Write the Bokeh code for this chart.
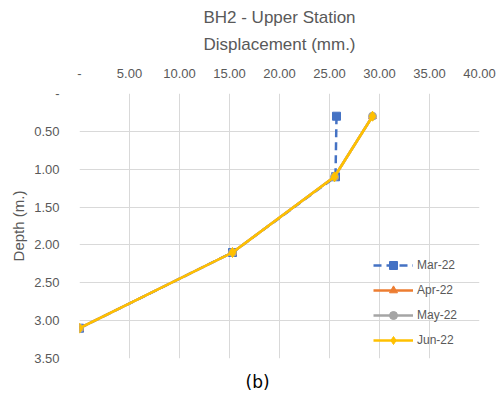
from bokeh.plotting import figure
from bokeh.models import (LinearAxis, FixedTicker, Range1d, Legend, LegendItem, Title, Grid)
from bokeh.embed import file_html
from bokeh.resources import INLINE

# ---- data ----
depth = [0.3, 1.1, 2.1, 3.1]
mar22 = [25.7, 25.6, 15.3, 0.0]
apr22 = [29.3, 25.5, 15.3, 0.0]
may22 = [29.3, 25.5, 15.3, 0.0]
jun22 = [29.3, 25.5, 15.3, 0.0]
x_ticks = [0, 5, 10, 15, 20, 25, 30, 35, 40]
x_tick_labels = ["-", "5.00", "10.00", "15.00", "20.00", "25.00", "30.00", "35.00", "40.00"]
y_ticks = [0, 0.5, 1.0, 1.5, 2.0, 2.5, 3.0, 3.5]
y_tick_labels = ["-", "0.50", "1.00", "1.50", "2.00", "2.50", "3.00", "3.50"]

FONT = "Liberation Sans"
TXT = "#595959"
GRID = "#d9d9d9"

p = figure(width=497, height=402, output_backend="svg", toolbar_location=None,
           x_range=Range1d(0, 40), y_range=Range1d(3.5, 0),
           x_axis_location=None, y_axis_location=None,
           min_border_left=79, min_border_right=18, min_border_top=92, min_border_bottom=43)
p.outline_line_color = None
p.background_fill_color = "white"
p.border_fill_color = "white"

p.title = Title(text="BH2 - Upper Station", align="center", text_font=FONT,
                text_font_size="17px", text_color=TXT, text_font_style="normal", offset=4)
p.title_location = "above"

xa = LinearAxis(ticker=FixedTicker(ticks=x_ticks),
                major_label_overrides={t: l for t, l in zip(x_ticks, x_tick_labels)},
                axis_label="Displacement (mm.)")
ya = LinearAxis(ticker=FixedTicker(ticks=y_ticks),
                major_label_overrides={t: l for t, l in zip(y_ticks, y_tick_labels)},
                axis_label="Depth (m.)")
for ax in (xa, ya):
    ax.axis_line_color = None
    ax.major_tick_line_color = None
    ax.minor_tick_line_color = None
    ax.major_label_text_font = FONT
    ax.major_label_text_font_size = "13px"
    ax.major_label_text_color = TXT
    ax.axis_label_text_font = FONT
    ax.axis_label_text_color = TXT
    ax.axis_label_text_font_style = "normal"
xa.axis_label_text_font_size = "17px"
ya.axis_label_text_font_size = "15px"
xa.major_label_standoff = 10
xa.axis_label_standoff = 12
ya.major_label_standoff = 14
ya.axis_label_standoff = 4
p.add_layout(xa, "above")
p.add_layout(ya, "left")

p.xgrid.visible = False
p.ygrid.visible = False
p.add_layout(Grid(dimension=0, ticker=FixedTicker(ticks=x_ticks), grid_line_color=GRID, grid_line_width=1))
p.add_layout(Grid(dimension=1, ticker=FixedTicker(ticks=y_ticks), grid_line_color=GRID, grid_line_width=1))

series = [
    ("Mar-22", mar22, "#4472C4", "square", "dashed"),
    ("Apr-22", apr22, "#ED7D31", "triangle", "solid"),
    ("May-22", may22, "#A5A5A5", "circle", "solid"),
    ("Jun-22", jun22, "#FFC000", "diamond", "solid"),
]
items = []
for name, xs, col, mk, dash in series:
    if dash == "dashed":
        l = p.line(xs, depth, line_color=col, line_width=2.5, line_dash="8 5")
    else:
        l = p.line(xs, depth, line_color=col, line_width=2.5)
    s = p.scatter(xs, depth, marker=mk, size=8 if mk != "diamond" else 10,
                  fill_color=col, line_color=col)
    items.append(LegendItem(label=name, renderers=[l, s]))

legend = Legend(items=items, location=(294, 8), glyph_width=40, glyph_height=20,
                label_height=20, spacing=5, padding=0, margin=0,
                label_text_font=FONT, label_text_font_size="12px", label_text_color=TXT,
                background_fill_alpha=0, border_line_color=None, label_standoff=4)
p.add_layout(legend, "center")

cap = Title(text="(b)", align="left", offset=166, text_font="DejaVu Sans",
            text_font_size="17px", text_color="black", text_font_style="normal", standoff=22)
p.add_layout(cap, "below")

open("out.html", "w").write(file_html(p, INLINE))
